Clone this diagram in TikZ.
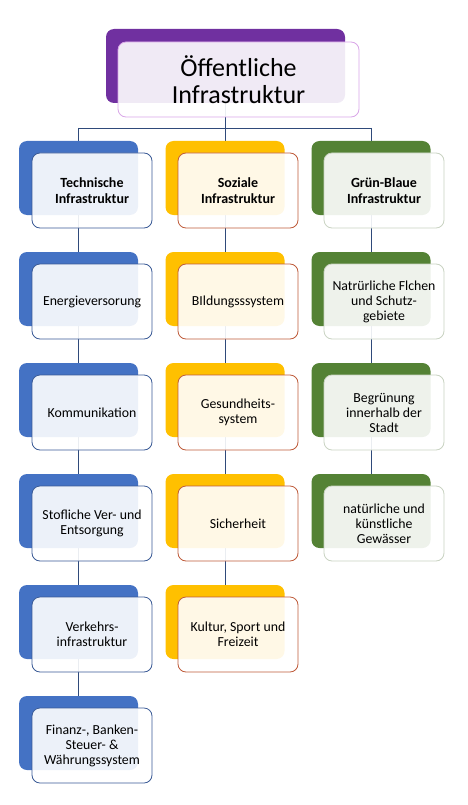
\documentclass[tikz,border=0pt]{standalone}
\usepackage{fontspec}
\setmainfont{Carlito}
\usetikzlibrary{backgrounds}
\definecolor{cpurple}{HTML}{7030A0}
\definecolor{cpurpleb}{HTML}{D9A6E8}
\definecolor{cblue}{HTML}{4472C4}
\definecolor{cblueb}{HTML}{3A5A96}
\definecolor{cgold}{HTML}{FFC000}
\definecolor{cgoldb}{HTML}{BE5B3A}
\definecolor{cgreen}{HTML}{548235}
\definecolor{cgreenb}{HTML}{C9D3C2}
\definecolor{cline}{HTML}{2F4A7A}
\tikzset{
  backbox/.style={rounded corners=8pt, minimum width=119pt, minimum height=74pt, inner sep=0pt, draw=none},
  frontbox/.style={rounded corners=8pt, minimum width=120pt, minimum height=75pt, inner sep=0pt,
    fill=white, fill opacity=0.9, text opacity=1, align=center, line width=0.8pt,
    font=\fontsize{13.8}{15}\selectfont},
  headbox/.style={frontbox, font=\fontsize{14}{16}\selectfont\bfseries},
  conn/.style={draw=cline, line width=0.9pt},
}
\begin{document}
\begin{tikzpicture}[x=1pt,y=-1pt]
\useasboundingbox (0,0) rectangle (468,805);
% title
\node[backbox, fill=cpurple, minimum width=239pt] (tb) at (225.5,66) {};
\node[frontbox, draw=cpurpleb, minimum width=241pt, font=\fontsize{26}{27.5}\selectfont] (tf) at (238.5,79.5) {Öffentliche\\Infrastruktur};
\coordinate (bar) at (0,128);
% column T
\node[backbox, fill=cblue] (bT0) at (78.5,178) {};
\node[headbox, draw=cblueb] (fT0) at (92,190.5) {Technische\\Infrastruktur};
\node[backbox, fill=cblue] (bT1) at (78.5,289) {};
\node[frontbox, draw=cblueb] (fT1) at (92,301.5) {Energieversorung};
\node[backbox, fill=cblue] (bT2) at (78.5,400) {};
\node[frontbox, draw=cblueb] (fT2) at (92,412.5) {Kommunikation};
\node[backbox, fill=cblue] (bT3) at (78.5,511) {};
\node[frontbox, draw=cblueb] (fT3) at (92,523.5) {Stofliche Ver- und\\Entsorgung};
\node[backbox, fill=cblue] (bT4) at (78.5,622) {};
\node[frontbox, draw=cblueb] (fT4) at (92,634.5) {Verkehrs-\\infrastruktur};
\node[backbox, fill=cblue] (bT5) at (78.5,733) {};
\node[frontbox, draw=cblueb] (fT5) at (92,745.5) {Finanz-, Banken-\\Steuer- \&\\Währungssystem};
% column S
\node[backbox, fill=cgold] (bS0) at (225,178) {};
\node[headbox, draw=cgoldb] (fS0) at (238,190.5) {Soziale\\Infrastruktur};
\node[backbox, fill=cgold] (bS1) at (225,289) {};
\node[frontbox, draw=cgoldb] (fS1) at (238,301.5) {BIldungsssystem};
\node[backbox, fill=cgold] (bS2) at (225,400) {};
\node[frontbox, draw=cgoldb] (fS2) at (238,412.5) {Gesundheits-\\system};
\node[backbox, fill=cgold] (bS3) at (225,511) {};
\node[frontbox, draw=cgoldb] (fS3) at (238,523.5) {Sicherheit};
\node[backbox, fill=cgold] (bS4) at (225,622) {};
\node[frontbox, draw=cgoldb] (fS4) at (238,634.5) {Kultur, Sport und\\Freizeit};
% column G
\node[backbox, fill=cgreen] (bG0) at (371,178) {};
\node[headbox, draw=cgreenb] (fG0) at (384,190.5) {Grün-Blaue\\Infrastruktur};
\node[backbox, fill=cgreen] (bG1) at (371,289) {};
\node[frontbox, draw=cgreenb] (fG1) at (384,301.5) {Natrürliche Flchen\\und Schutz-\\gebiete};
\node[backbox, fill=cgreen] (bG2) at (371,400) {};
\node[frontbox, draw=cgreenb] (fG2) at (384,412.5) {Begrünung\\innerhalb der\\Stadt};
\node[backbox, fill=cgreen] (bG3) at (371,511) {};
\node[frontbox, draw=cgreenb] (fG3) at (384,523.5) {natürliche und\\künstliche\\Gewässer};
% connectors
\begin{scope}[on background layer]
\draw[conn] (tb.center) -- (tb.center |- bar);
\draw[conn] (bT0.center |- bar) -- (bG0.center |- bar);
\draw[conn] (bT0.center |- bar) -- (bT5.center);
\draw[conn] (bS0.center |- bar) -- (bS4.center);
\draw[conn] (bG0.center |- bar) -- (bG3.center);
\end{scope}
\end{tikzpicture}
\end{document}
